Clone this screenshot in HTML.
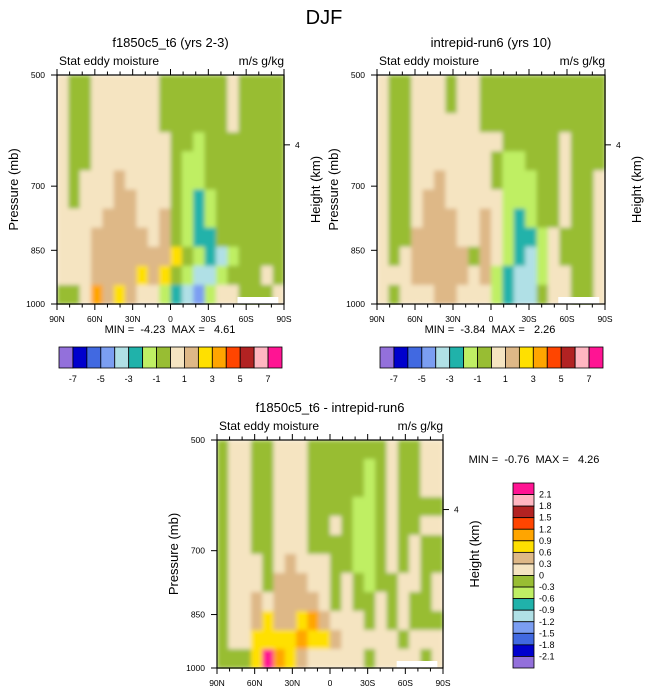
<!DOCTYPE html>
<html><head><meta charset="utf-8">
<style>
body{margin:0;background:#fff;}
svg text{font-family:"Liberation Sans",sans-serif;fill:#000;}
</style></head>
<body>
<svg id="fig" width="648" height="694" viewBox="0 0 648 694" xmlns="http://www.w3.org/2000/svg">
<defs><filter id="soft" x="0" y="0" width="1" height="1"><feGaussianBlur stdDeviation="2.2"/></filter></defs>
<text x="324" y="24" font-size="20" text-anchor="middle">DJF</text>
</svg>
<script>
// palette indices 0..f
const palette = ["#9370DB","#0000CD","#4169E1","#7B9EF2","#B0E0E6","#20B2AA","#BFEF64","#98BD33","#F5E4C1","#DEB887","#FFE000","#FFA500","#FF4500","#B22222","#FFB6C1","#FF1493"];
const latLabels = ["90N","60N","30N","0","30S","60S","90S"];
const pressureTicks = [500,700,850,1000];
const topBarLabels = ["-7","-5","-3","-1","1","3","5","7"];
const diffBarLabels = ["2.1","1.8","1.5","1.2","0.9","0.6","0.3","0","-0.3","-0.6","-0.9","-1.2","-1.5","-1.8","-2.1"];
const grid1 = [
"87788888877777787777",
"87788888877777787777",
"87788888877777787777",
"87788888887767777777",
"87788888887667777777",
"87888988887667777777",
"87888998887656777777",
"88889998897656777777",
"88899999897655777777",
"8889999999a765467777",
"8889999a9a7644677787",
"778b9a98865436887778"];
const grid2 = [
"87788878877777777777",
"87788878877777777777",
"87788888877777777777",
"87788888888777778777",
"87788888887667778777",
"87788988887666778778",
"87789988888666778778",
"87789998898656778778",
"87799998898655687778",
"87899999798654687778",
"88899999896544688778",
"87888998886544788778"];
const grid3 = [
"78877888777777787788",
"78877888777776787788",
"78877888777776787788",
"78877888777766787777",
"78877888778766787788",
"78877888777766787877",
"78887898887766787877",
"78887999887876778878",
"78898999987877878778",
"7889a99ab98887878777",
"788aaaabaa9888887888",
"777afba9888887888878"];
const minmax = ["MIN =  -4.23  MAX =   4.61","MIN =  -3.84  MAX =   2.26","MIN =  -0.76  MAX =   4.26"];

const svg = document.getElementById('fig');
const NS = "http://www.w3.org/2000/svg";
function mk(tag, attrs, parent){const e=document.createElementNS(NS,tag);for(const k in attrs)e.setAttribute(k,attrs[k]);(parent||svg).appendChild(e);return e;}
function txt(x,y,s,size,anchor,parent){const t=mk('text',{x:x,y:y,'font-size':size,'text-anchor':anchor||'start'},parent);t.textContent=s;return t;}

function pY(p,y0,y1){const a=Math.log(500),b=Math.log(1000);return y0+(Math.log(p)-a)/(b-a)*(y1-y0);}

function panel(name, grid, x0, y0, x1, y1, title, mm, mmX, mmY){
  const g = mk('g',{});
  
  
  const rows=grid.length, cols=20;
  const cw=(x1-x0)/cols, rh=(y1-y0)/rows;
  const cells = mk('g',{filter:'url(#soft)'},g);
  
  
  for(let r=0;r<rows;r++){
    const row=grid[r];
    for(let c=0;c<cols;c++){
      const code=row[c]||'8';
      const cell=mk('rect',{x:(x0+c*cw).toFixed(2),y:(y0+r*rh).toFixed(2),width:(cw+0.6).toFixed(2),height:(rh+0.6).toFixed(2),fill:palette[parseInt(code,16)]},cells);
      
      
    }
  }
  const miss=mk('rect',{x:x0+(x1-x0)*0.795,y:y1-7,width:(x1-x0)*0.18,height:7,fill:'#fff'},g);
  
  
  const frame=mk('rect',{x:x0,y:y0,width:x1-x0,height:y1-y0,fill:'none',stroke:'#000','stroke-width':1.2},g);
  
  
  for(let i=0;i<=18;i++){
    const x=x0+i*(x1-x0)/18, L=(i%3===0)?6:3.5;
    mk('line',{x1:x,y1:y0,x2:x,y2:y0-L,stroke:'#000','stroke-width':1},g);
    mk('line',{x1:x,y1:y1,x2:x,y2:y1+L,stroke:'#000','stroke-width':1},g);
  }
  latLabels.forEach((s,i)=>{const t=txt(x0+i*(x1-x0)/6,y1+18,s,8.5,'middle',g);});
  pressureTicks.forEach(p=>{
    const y=pY(p,y0,y1);
    mk('line',{x1:x0,y1:y,x2:x0-6,y2:y,stroke:'#000','stroke-width':1},g);
    const t=txt(x0-12,y+3,String(p),8.5,'end',g);
    
    
  });
  const hy=y0+(y1-y0)*0.305;
  mk('line',{x1:x1,y1:hy,x2:x1+6,y2:hy,stroke:'#000','stroke-width':1},g);
  const h4=txt(x1+11,hy+3,'4',8.5,'start',g);
  
  
  const cy=(y0+y1)/2;
  const yl=txt(0,0,'Pressure (mb)',13,'middle',g);
  yl.setAttribute('transform',`translate(${x0-39},${cy}) rotate(-90)`);
  
  
  const hl=txt(0,0,'Height (km)',13,'middle',g);
  hl.setAttribute('transform',`translate(${x1+36},${cy}) rotate(-90)`);
  
  
  const tt=txt((x0+x1)/2,y0-28,title,13,'middle',g);
  
  
  const st=txt(x0+2,y0-10,'Stat eddy moisture',12,'start',g);
  
  
  const un=txt(x1,y0-10,'m/s g/kg',12,'end',g);
  
  
  const m=txt(mmX,mmY,mm,11,'middle',g);
  m.setAttribute('xml:space','preserve');
  m.style.whiteSpace='pre';
  
  
}
panel('panel-f1850c5', grid1, 57,75,284,304,'f1850c5_t6 (yrs 2-3)',minmax[0],170,333);
panel('panel-intrepid', grid2, 377,75,605,304,'intrepid-run6 (yrs 10)',minmax[1],490,333);
panel('panel-difference', grid3, 217,440,443,668,'f1850c5_t6 - intrepid-run6',minmax[2],534,463);

function hbar(name,x0,y0,w,h){
  const g=mk('g',{});
  
  
  const bw=w/16;
  palette.forEach((c,i)=>{const r=mk('rect',{x:x0+i*bw,y:y0,width:bw,height:h,fill:c,stroke:'#000','stroke-width':0.8},g);});
  topBarLabels.forEach((s,i)=>{const t=txt(x0+(2*i+1)*bw,y0+h+14,s,9,'middle',g);});
}
hbar('colorbar-1',59,347,223,21);
hbar('colorbar-2',380,347,223,21);
(function(){
  const g=mk('g',{});
  
  
  const x0=513,y0=483,w=21,h=185,bh=h/16;
  palette.slice().reverse().forEach((c,i)=>{const r=mk('rect',{x:x0,y:y0+i*bh,width:w,height:bh,fill:c,stroke:'#000','stroke-width':0.8},g);});
  diffBarLabels.forEach((s,i)=>{const t=txt(x0+w+5,y0+(i+1)*bh+3,s,9,'start',g);});
})();
</script>
</body></html>
